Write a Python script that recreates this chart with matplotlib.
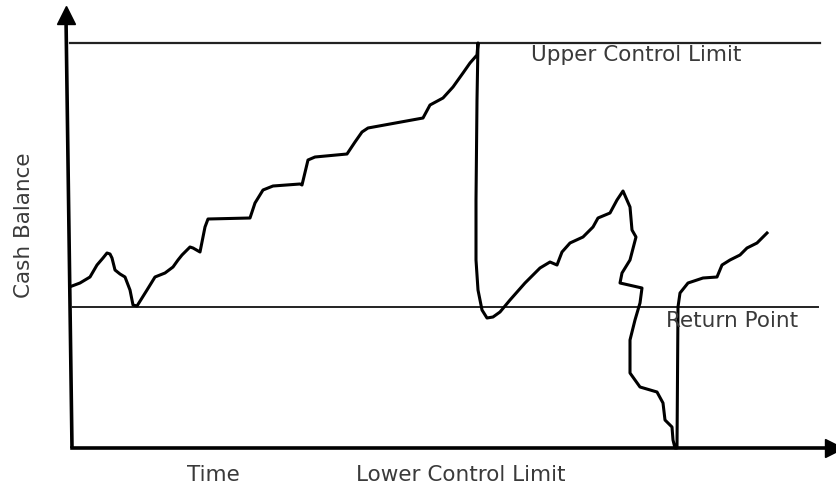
import matplotlib
matplotlib.use("Agg")
import matplotlib.pyplot as plt

# values: time units along x, cash units along y
upper_limit = 405
return_point = 141
lower_limit = 0
axis_end = 765

time = [0, 8, 18, 25, 31, 35, 38, 40, 43, 48, 53, 58, 61, 65, 70, 75, 83, 93, 101, 106,
        110, 118, 121, 128, 133, 136, 178, 183, 191, 201, 228, 230, 236, 243, 275, 283,
        290, 296, 351, 358, 371, 381, 391, 398, 405, 406,
        405, 404, 404, 406, 410, 415, 421, 428, 438, 453, 468, 478, 485, 490, 498, 511,
        521, 526, 538, 545, 551, 558, 560, 564, 558, 550, 548, 570, 568, 563, 558, 558,
        568, 585, 591, 593, 600, 601, 603, 605, 606, 608, 616, 631, 645, 650, 658, 668,
        675, 685, 695]
cash = [162, 165, 171, 183, 190, 195, 194, 190, 178, 174, 171, 158, 143, 142, 150, 158,
        171, 175, 181, 188, 193, 201, 200, 196, 221, 229, 230, 245, 258, 262, 264, 263,
        288, 291, 294, 306, 316, 320, 330, 343, 350, 361, 375, 385, 393, 405,
        348, 248, 188, 158, 138, 130, 131, 136, 148, 165, 180, 186, 183, 196, 205, 211,
        221, 230, 235, 248, 257, 241, 218, 211, 188, 175, 165, 160, 145, 128, 108, 75,
        61, 56, 45, 28, 21, 8, 0, 0, 141, 155, 165, 170, 171, 183, 188, 193,
        200, 205, 215]

fig = plt.figure(figsize=(8.37, 4.91), dpi=100)
ax = fig.add_axes([0, 0, 1, 1])
ax.set_xlim(-72, axis_end)
ax.set_ylim(-43, 448)
ax.axis("off")

# axes with arrows
ax.plot([0, -6], [lower_limit, 430], color="black", lw=2.6, solid_capstyle="butt")
ax.plot([-6], [433], marker="^", color="black", markersize=13)
ax.plot([0, axis_end - 6], [lower_limit, lower_limit], color="black", lw=2.6)
ax.plot([axis_end - 3], [lower_limit], marker=">", color="black", markersize=13)

# control lines
ax.plot([-2, 748], [upper_limit, upper_limit], color="#222222", lw=1.6)
ax.plot([0, 746], [return_point, return_point], color="#222222", lw=1.4)

# cash balance path
ax.plot(time, cash, color="black", lw=2.2, solid_joinstyle="round")

txt = dict(color="#3a3a3a", fontsize=15.5, family="DejaVu Sans")
ax.text(459, 393, "Upper Control Limit", ha="left", va="center", **txt)
ax.text(594, 127, "Return Point", ha="left", va="center", **txt)
ax.text(-48, 223, "Cash Balance", ha="center", va="center", rotation=90, **txt)
ax.text(141, -27, "Time", ha="center", va="center", **txt)
ax.text(284, -27, "Lower Control Limit", ha="left", va="center", **txt)

fig.savefig("out.png", dpi=100)
